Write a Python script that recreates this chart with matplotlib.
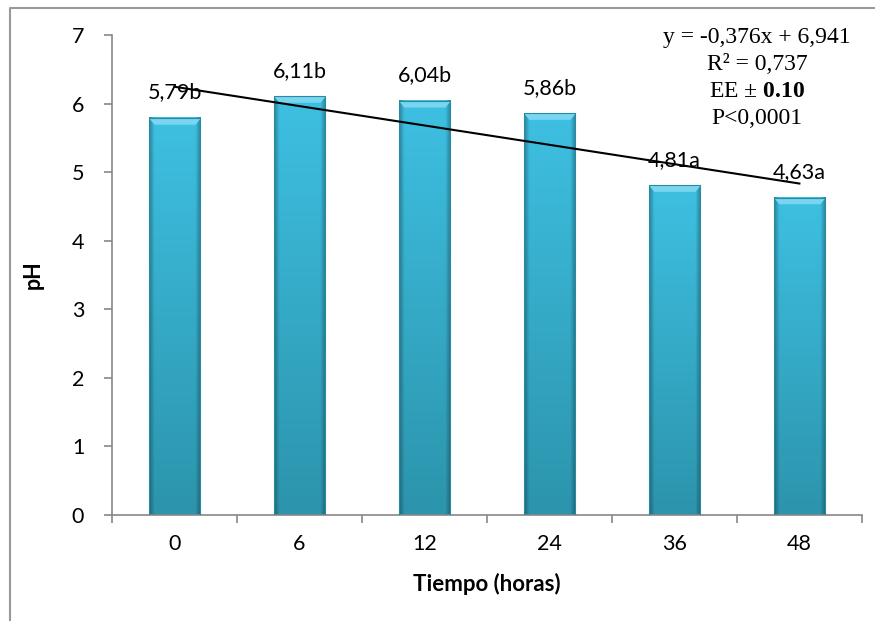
import numpy as np
import matplotlib
matplotlib.use('Agg')
import matplotlib.pyplot as plt
from matplotlib.lines import Line2D

horas = ['0', '6', '12', '24', '36', '48']
ph = [5.79, 6.11, 6.04, 5.86, 4.81, 4.63]
letras = ['b', 'b', 'b', 'b', 'a', 'a']
ecuacion = ['y = -0,376x + 6,941', 'R² = 0,737', r'EE $\pm$ $\mathbf{0.10}$', 'P<0,0001']

plt.rcParams['font.family'] = ['Lato', 'DejaVu Sans']
plt.rcParams['mathtext.fontset'] = 'custom'
plt.rcParams['mathtext.rm'] = 'Liberation Serif'
plt.rcParams['mathtext.bf'] = 'Liberation Serif:bold'

fig = plt.figure(figsize=(8.75, 6.21), dpi=100)
ax = fig.add_axes([0.128, 0.1707, 0.857, 0.7729])

x = np.arange(len(horas))
ancho = 0.41

# gradiente de las barras
top = np.array([62, 192, 226]) / 255
bot = np.array([44, 148, 172]) / 255
filas = np.linspace(0, 1, 200)[:, None, None]
vert = bot + (top - bot) * filas
cols = np.linspace(-1, 1, 50)
borde = np.clip((np.abs(cols) - 0.8) / 0.2, 0, 1) * 0.3
img = vert * (1 - borde)[None, :, None]

for xi, v in zip(x, ph):
    ax.imshow(img, extent=[xi - ancho / 2, xi + ancho / 2, 0, v], origin='lower',
              aspect='auto', zorder=2, interpolation='bilinear')
    # bisel superior
    ax.fill_between([xi - ancho / 2, xi - ancho / 2 + 0.04, xi + ancho / 2 - 0.04, xi + ancho / 2],
                    [v, v - 0.09, v - 0.09, v], [v] * 4, color='#7ad6f0', zorder=3, lw=0)
    ax.add_patch(plt.Rectangle((xi - ancho / 2, 0), ancho, v, fill=False,
                               ec='#2b8aa3', lw=0.8, zorder=3))

for xi, v, l in zip(x, ph, letras):
    ax.annotate(f'{v:.2f}'.replace('.', ',') + l, (xi, v), xytext=(0, 14),
                textcoords='offset points', ha='center', va='baseline', fontsize=15.5, zorder=5)

# linea de tendencia
m, b = np.polyfit(x + 1, ph, 1)
ax.plot([x[0], x[-1]], [m * 1 + b, m * len(x) + b], color='black', lw=1.5, zorder=4)

for i, t in enumerate(ecuacion):
    fig.text(0.865, 0.939 - i * 0.0435, t, ha='center', va='center', fontsize=17,
             family='Liberation Serif')

ax.set_xlim(-0.5, 5.5)
ax.set_ylim(0, 7)
ax.set_yticks(range(8))
ax.set_xticks(x)
ax.set_xticklabels(horas)
ax.set_xticks(np.arange(-0.5, 6, 1), minor=True)
ax.tick_params(axis='x', which='major', length=0, pad=14, labelsize=15.5)
ax.tick_params(axis='x', which='minor', length=6, color='#888888', width=1.2)
ax.tick_params(axis='y', length=6, color='#888888', width=1.2, pad=14, labelsize=15.5)
for s in ['top', 'right']:
    ax.spines[s].set_visible(False)
for s in ['left', 'bottom']:
    ax.spines[s].set_color('#888888')
    ax.spines[s].set_linewidth(1.2)

ax.set_ylabel('pH', fontsize=15.5, fontweight='bold', labelpad=20)
ax.set_xlabel('Tiempo (horas)', fontsize=16, fontweight='bold', labelpad=13)

# marco
fig.add_artist(Line2D([10 / 875, 10 / 875, 1], [0, 1 - 8 / 621, 1 - 8 / 621],
                      transform=fig.transFigure, color='#999999', lw=1.5))

fig.savefig('out.png', dpi=100)
